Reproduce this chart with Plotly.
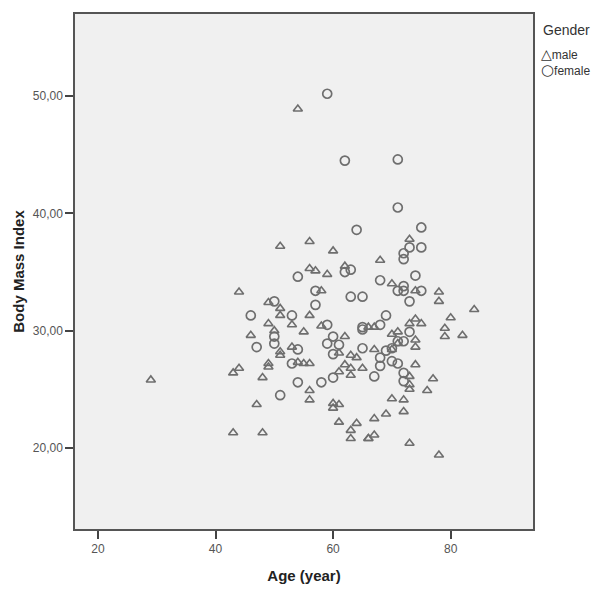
import plotly.graph_objects as go

male_age = [29, 54, 44, 46, 51, 56, 60, 56, 57, 59, 62, 58, 49, 51,
            51, 56, 49, 53, 58, 50, 55, 62, 53, 51, 73, 68, 70, 74,
            78, 78, 84, 80, 74, 73, 75, 66, 67, 79, 79, 82, 70, 71,
            71, 74, 74, 67, 70, 43, 44, 47, 43, 51, 63, 64, 49, 49,
            48, 54, 55, 56, 56, 56, 61, 62, 63, 63, 65, 60, 61, 60,
            61, 64, 63, 63, 48, 66, 74, 73, 73, 73, 77, 76, 70, 72,
            69, 72, 67, 66, 67, 73, 78, 61]
male_bmi = [25.8, 48.9, 33.3, 29.6, 37.2, 37.6, 36.8, 35.3, 35.1, 34.8, 35.5, 33.4, 32.4, 31.9,
            31.3, 31.3, 30.6, 30.5, 30.4, 30.0, 29.9, 29.5, 28.6, 28.2, 37.8, 36.0, 34.0, 33.4,
            33.3, 32.5, 31.8, 31.1, 31.0, 30.6, 30.6, 30.3, 30.3, 30.2, 29.5, 29.6, 29.7, 29.9,
            28.9, 29.2, 28.6, 28.4, 28.4, 26.4, 26.8, 23.7, 21.3, 27.9, 27.9, 27.7, 26.9, 27.2,
            26.0, 27.3, 27.2, 27.2, 24.9, 24.1, 26.5, 27.1, 26.8, 26.2, 26.8, 23.8, 23.7, 23.4,
            22.2, 22.1, 21.5, 20.8, 21.3, 20.8, 27.1, 26.1, 25.4, 25.0, 25.9, 24.9, 24.2, 24.1,
            22.9, 23.1, 22.5, 20.8, 21.1, 20.4, 19.4, 28.1]

female_age = [59, 62, 71, 71, 64, 75, 46, 47, 54, 62, 63, 57, 63, 65,
              50, 57, 53, 59, 65, 50, 60, 50, 59, 61, 54, 65, 73, 75,
              72, 72, 74, 68, 72, 71, 72, 75, 73, 69, 65, 68, 73, 72,
              69, 70, 71, 68, 70, 71, 68, 53, 54, 51, 58, 60, 67, 72,
              72, 60]
female_bmi = [50.2, 44.5, 44.6, 40.5, 38.6, 38.8, 31.3, 28.6, 34.6, 35.0, 35.2, 33.4, 32.9, 32.9,
              32.5, 32.2, 31.3, 30.5, 30.3, 29.5, 29.5, 28.9, 28.9, 28.8, 28.4, 28.5, 37.1, 37.1,
              36.6, 36.1, 34.7, 34.3, 33.8, 33.4, 33.4, 33.4, 32.5, 31.3, 30.1, 30.5, 29.9, 29.1,
              28.3, 28.5, 29.1, 27.7, 27.4, 27.2, 27.0, 27.2, 25.6, 24.5, 25.6, 26.0, 26.1, 26.4,
              25.7, 28.0]

x_ticks = [20, 40, 60, 80]
y_ticks = [20, 30, 40, 50]
legend_title = "Gender"
legend_names = ["male", "female"]
legend_glyphs = ["\u25b3", "\u25cb"]

mcol = "#6e6e6e"
fig = go.Figure()
fig.add_trace(go.Scatter(x=male_age, y=male_bmi, mode="markers", name="male",
                         marker=dict(symbol="triangle-up-open", size=8, color=mcol,
                                     line=dict(width=1.6, color=mcol))))
fig.add_trace(go.Scatter(x=female_age, y=female_bmi, mode="markers", name="female",
                         marker=dict(symbol="circle-open", size=9, color=mcol,
                                     line=dict(width=1.7, color=mcol))))

W, H = 593, 594
ml, mr, mt, mb = 75, 60, 12, 56
pw, ph = W - ml - mr, H - mt - mb

def px_x(p):
    return (p - ml) / pw

def px_y(p):
    return 1 - (p - mt) / ph

annos = [dict(text=legend_title, xref="paper", yref="paper", x=px_x(541), y=px_y(28),
              xanchor="left", yanchor="middle", showarrow=False,
              font=dict(size=14, color="#333333"))]
glyph_sizes = [14, 15]
for i, (g, t) in enumerate(zip(legend_glyphs, legend_names)):
    txt = "<span style='font-size:%dpx;font-family:DejaVu Sans'>%s</span>%s" % (glyph_sizes[i], g, t)
    annos.append(dict(text=txt, xref="paper", yref="paper", x=px_x(539), y=px_y(53 + 16 * i),
                      xanchor="left", yanchor="middle", showarrow=False,
                      font=dict(size=12, color="#333333")))

fig.update_layout(
    width=W, height=H,
    margin=dict(l=ml, r=mr, t=mt, b=mb),
    paper_bgcolor="white", plot_bgcolor="#f0f0f0",
    separators=",.",
    font=dict(family="Liberation Sans, Arial, DejaVu Sans, sans-serif", color="#555555", size=12),
    showlegend=False,
    annotations=annos,
)
fig.update_xaxes(range=[16.1, 94.0], tickvals=x_ticks, ticks="outside", ticklen=8,
                 tickcolor="#444444", tickwidth=1.5, showgrid=False, zeroline=False,
                 showline=True, linecolor="#555555", linewidth=1.5, mirror=True,
                 tickfont=dict(size=12, color="#555555"),
                 title=dict(text="<b>Age (year)</b>", font=dict(size=15, color="#222222"),
                            standoff=15))
fig.update_yaxes(range=[13.09, 57.0], tickvals=y_ticks, tickformat=".2f", ticks="outside",
                 ticklen=8, tickcolor="#444444", tickwidth=1.5, showgrid=False, zeroline=False,
                 showline=True, linecolor="#555555", linewidth=1.5, mirror=True,
                 tickfont=dict(size=12, color="#555555"),
                 title=dict(text="<b>Body Mass Index</b>", font=dict(size=15, color="#222222"),
                            standoff=5))

fig.write_html("out.html", config={"displayModeBar": False},
               post_script="document.body.style.margin='0';")
